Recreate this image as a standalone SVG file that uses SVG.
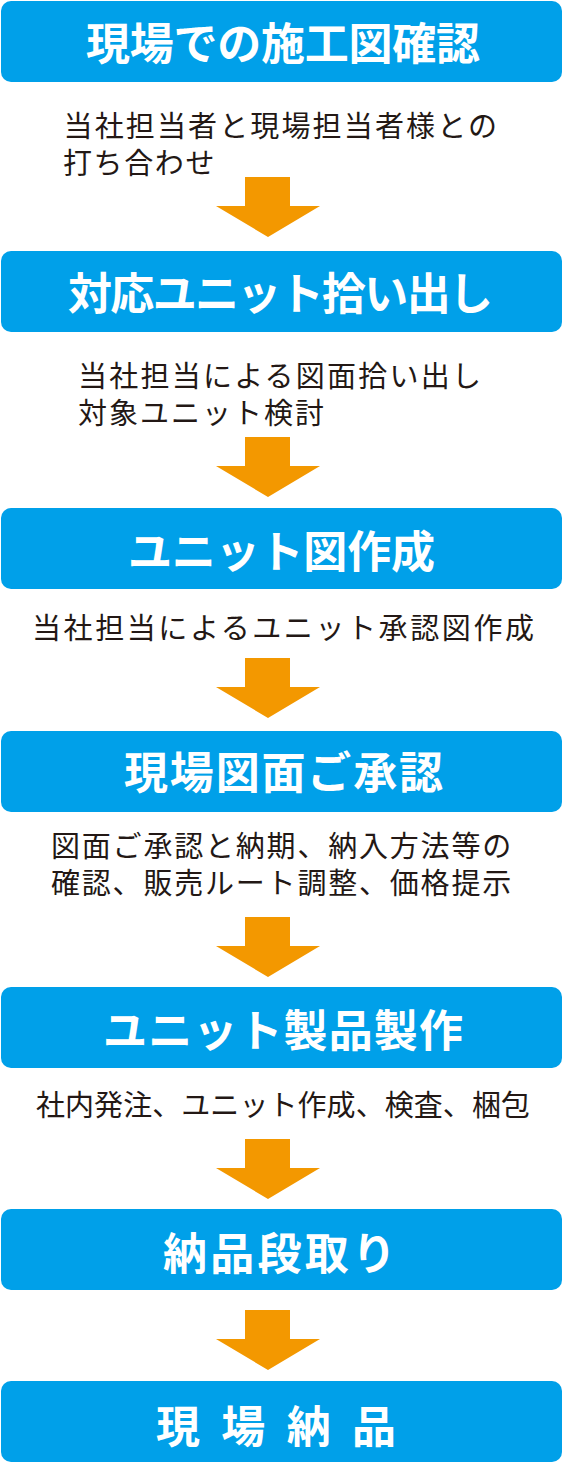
<svg xmlns="http://www.w3.org/2000/svg" xmlns:xlink="http://www.w3.org/1999/xlink" width="563" height="1463" viewBox="0 0 563 1463">
<style>
.box{fill:#00a0e9;}
.title{font-family:"Noto Sans CJK JP","Noto Sans",sans-serif;font-weight:700;font-size:44px;fill:#ffffff;}
.sub{font-family:"Noto Sans CJK JP","Noto Sans",sans-serif;font-weight:400;font-size:29px;fill:#231815;}
.arrow{fill:#f39800;}
</style>
<defs>
<path id="arr" d="M245 0 H290 V29 H320 L268 60 L216 29 H245 Z"/>
</defs>
<rect width="563" height="1463" fill="#ffffff"/>
<g id="node1">
<rect class="box" x="1" y="1" width="561" height="81" rx="10"/>
<text class="title" x="86" y="60" textLength="394" lengthAdjust="spacing">現場での施工図確認</text>
<text class="sub"><tspan x="63.5" y="137" letter-spacing="2.14">当社担当者と現場担当者様との</tspan><tspan x="63" y="174" letter-spacing="1.6">打ち合わせ</tspan></text>
</g>
<g id="node2">
<rect class="box" x="1" y="251" width="561" height="81" rx="10"/>
<text class="title" x="68" y="310" textLength="425" lengthAdjust="spacing">対応ユニット拾い出し</text>
<text class="sub"><tspan x="78" y="387" letter-spacing="2.23">当社担当による図面拾い出し</tspan><tspan x="78" y="424" letter-spacing="2">対象ユニット検討</tspan></text>
</g>
<g id="node3">
<rect class="box" x="1" y="508" width="561" height="81" rx="10"/>
<text class="title" x="128" y="568" textLength="307" lengthAdjust="spacing">ユニット図作成</text>
<text class="sub" x="32" y="639" textLength="502" lengthAdjust="spacing">当社担当によるユニット承認図作成</text>
</g>
<g id="node4">
<rect class="box" x="1" y="731" width="561" height="81" rx="10"/>
<text class="title" x="124" y="789" textLength="319" lengthAdjust="spacing">現場図面ご承認</text>
<text class="sub"><tspan x="51" y="857" letter-spacing="1.8">図面ご承認と納期、納入方法等の</tspan><tspan x="51" y="894" letter-spacing="1.8">確認、販売ルート調整、価格提示</tspan></text>
</g>
<g id="node5">
<rect class="box" x="1" y="987" width="561" height="81" rx="10"/>
<text class="title" x="103" y="1047" textLength="360" lengthAdjust="spacing">ユニット製品製作</text>
<text class="sub" x="36" y="1116" textLength="494" lengthAdjust="spacing">社内発注、ユニット作成、検査、梱包</text>
</g>
<g id="node6">
<rect class="box" x="1" y="1209" width="561" height="81" rx="10"/>
<text class="title" x="163" y="1270" textLength="233" lengthAdjust="spacing">納品段取り</text>
</g>
<g id="node7">
<rect class="box" x="1" y="1381" width="561" height="81" rx="10"/>
<text class="title" x="156" y="1443" textLength="240" lengthAdjust="spacing">現 場 納 品</text>
</g>
<g id="connectors" class="arrow">
<use xlink:href="#arr" href="#arr" y="177"/>
<use xlink:href="#arr" href="#arr" y="437"/>
<use xlink:href="#arr" href="#arr" y="658"/>
<use xlink:href="#arr" href="#arr" y="917"/>
<use xlink:href="#arr" href="#arr" y="1139"/>
<use xlink:href="#arr" href="#arr" y="1310"/>
</g>
</svg>
